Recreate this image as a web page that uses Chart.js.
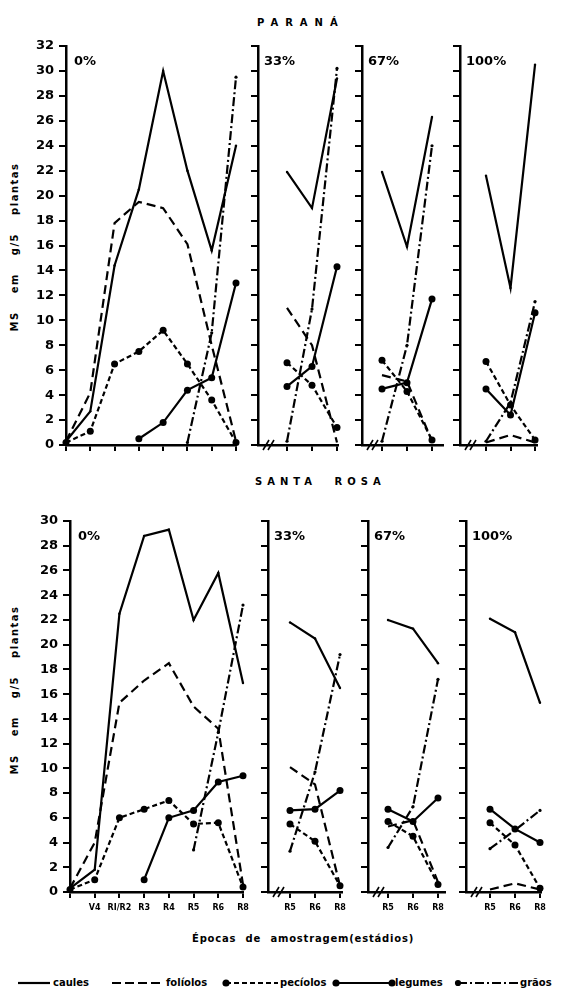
<!DOCTYPE html>
<html>
<head>
<meta charset="utf-8">
<script src="https://cdn.jsdelivr.net/npm/chart.js@4.4.0/dist/chart.umd.min.js"></script>
<style>
  body { margin: 0; background: #fff; width: 567px; height: 990px; position: relative; overflow: hidden;
         font-family: "DejaVu Sans", sans-serif; font-weight: bold; color: #000; }
  canvas { position: absolute; }
  .t { position: absolute; white-space: nowrap; line-height: 1; }
  .title { font-size: 10px; letter-spacing: 7px; }
  .pct { font-size: 13px; }
  .ylab { font-size: 10px; letter-spacing: 1.5px; word-spacing: 13px; transform: translate(-50%, -50%) rotate(-90deg); }
  .leg { font-size: 10px; }
</style>
</head>
<body>

<div class="t title" style="left:257px; top:18px;">PARANÁ</div>
<div class="t title" style="left:255px; top:477px; letter-spacing:5px; word-spacing:9px;">SANTA ROSA</div>
<div class="t ylab" style="left:15px; top:247px;">MS em g/5 plantas</div>
<div class="t ylab" style="left:15px; top:690px;">MS em g/5 plantas</div>
<div class="t" style="left:192px; top:934px; font-size:10px; letter-spacing:0.8px; word-spacing:5px;">Épocas de amostragem(estádios)</div>

<svg style="position:absolute; left:0; top:975px;" width="567" height="15">
  <g stroke="#000" stroke-width="2.2" fill="#000">
    <line x1="18" y1="8" x2="50" y2="8"/>
    <line x1="112" y1="8" x2="163" y2="8" stroke-dasharray="9,4"/>
    <circle cx="226" cy="8" r="2.5"/>
    <line x1="226" y1="8" x2="278" y2="8" stroke-dasharray="5,3"/>
    <circle cx="336" cy="8" r="2.5"/>
    <line x1="336" y1="8" x2="392" y2="8"/>
    <circle cx="392" cy="8" r="2.5"/>
    <circle cx="458" cy="8" r="2"/>
    <line x1="458" y1="8" x2="518" y2="8" stroke-dasharray="9,3,2,3"/>
  </g>
</svg>
<div class="t leg" style="left:53px; top:978px;">caules</div>
<div class="t leg" style="left:166px; top:978px;">folíolos</div>
<div class="t leg" style="left:280px; top:978px;">pecíolos</div>
<div class="t leg" style="left:395px; top:978px;">legumes</div>
<div class="t leg" style="left:520px; top:978px;">grãos</div>

<script>
// stages (x axis categories)
const stagesMain = ['', 'V4', 'RI/R2', 'R3', 'R4', 'R5', 'R6', 'R8'];
const stagesLate = ['R5', 'R6', 'R8'];

// Paraná, 0% defoliation (all stages)
const prCaules0   = [0.3, 2.7, 14.4, 20.5, 30.0, 22.0, 15.6, 24.0];
const prFoliolos0 = [0.3, 4.2, 17.8, 19.5, 19.0, 16.1, 8.0, 0.3];
const prPeciolos0 = [0.2, 1.1, 6.5, 7.5, 9.2, 6.5, 3.6, 0.2];
const prLegumes0  = [null, null, null, 0.5, 1.8, 4.4, 5.4, 13.0];
const prGraos0    = [null, null, null, null, null, 0.2, 9.0, 29.5];
// Paraná, R5-R8
const prCaules33   = [21.9, 19.0, 29.4];
const prFoliolos33 = [11.0, 8.0, 0.2];
const prPeciolos33 = [6.6, 4.8, 1.4];
const prLegumes33  = [4.7, 6.3, 14.3];
const prGraos33    = [0.3, 10.9, 30.2];
const prCaules67   = [21.9, 15.9, 26.3];
const prFoliolos67 = [5.6, 5.1, 0.3];
const prPeciolos67 = [6.8, 4.3, 0.4];
const prLegumes67  = [4.5, 5.0, 11.7];
const prGraos67    = [0.3, 8.0, 24.0];
const prCaules100   = [21.6, 12.6, 30.5];
const prFoliolos100 = [0.2, 0.8, 0.2];
const prPeciolos100 = [6.7, 3.2, 0.4];
const prLegumes100  = [4.5, 2.4, 10.6];
const prGraos100    = [0.3, 3.4, 11.5];

// Santa Rosa, 0%
const srCaules0   = [0.3, 1.8, 22.5, 28.8, 29.3, 22.0, 25.8, 16.9];
const srFoliolos0 = [0.3, 4.0, 15.3, 17.1, 18.5, 15.0, 13.2, 0.6];
const srPeciolos0 = [0.2, 1.0, 6.0, 6.7, 7.4, 5.5, 5.6, 0.4];
const srLegumes0  = [null, null, null, 1.0, 6.0, 6.6, 8.9, 9.4];
const srGraos0    = [null, null, null, null, null, 3.4, 12.9, 23.2];
// Santa Rosa, R5-R8
const srCaules33   = [21.8, 20.5, 16.5];
const srFoliolos33 = [10.1, 8.7, 0.5];
const srPeciolos33 = [5.5, 4.1, 0.5];
const srLegumes33  = [6.6, 6.7, 8.2];
const srGraos33    = [3.3, 9.7, 19.2];
const srCaules67   = [22.0, 21.3, 18.5];
const srFoliolos67 = [5.3, 5.8, 0.8];
const srPeciolos67 = [5.7, 4.5, 0.6];
const srLegumes67  = [6.7, 5.7, 7.6];
const srGraos67    = [3.6, 6.9, 17.2];
const srCaules100   = [22.1, 21.0, 15.3];
const srFoliolos100 = [0.2, 0.7, 0.2];
const srPeciolos100 = [5.6, 3.8, 0.3];
const srLegumes100  = [6.7, 5.1, 4.0];
const srGraos100    = [3.5, 5.0, 6.6];

const FONT = '"DejaVu Sans", sans-serif';
const PAD_L = 56, PAD_T = 14, PAD_R = 12, PAD_B = 30;

const rows = [
  { top: 46, bottom: 445, ymax: 32, showX: false },
  { top: 521, bottom: 892, ymax: 30, showX: true }
];

const panels = [
  { row: 0, pct: '0%',   left: 66,  right: 236, xmin: 0,     xmax: 7,    full: true,
    s: [prCaules0, prFoliolos0, prPeciolos0, prLegumes0, prGraos0] },
  { row: 0, pct: '33%',  left: 258, right: 338, xmin: -0.16, xmax: 3.04, full: false,
    s: [prCaules33, prFoliolos33, prPeciolos33, prLegumes33, prGraos33] },
  { row: 0, pct: '67%',  left: 362, right: 443, xmin: 0.2,   xmax: 3.44, full: false,
    s: [prCaules67, prFoliolos67, prPeciolos67, prLegumes67, prGraos67] },
  { row: 0, pct: '100%', left: 460, right: 537, xmin: -0.06, xmax: 3.08, full: false,
    s: [prCaules100, prFoliolos100, prPeciolos100, prLegumes100, prGraos100] },
  { row: 1, pct: '0%',   left: 70,  right: 243, xmin: 0,     xmax: 7,    full: true,
    s: [srCaules0, srFoliolos0, srPeciolos0, srLegumes0, srGraos0] },
  { row: 1, pct: '33%',  left: 268, right: 342, xmin: 0.12,  xmax: 3.08, full: false,
    s: [srCaules33, srFoliolos33, srPeciolos33, srLegumes33, srGraos33] },
  { row: 1, pct: '67%',  left: 368, right: 445, xmin: 0.2,   xmax: 3.28, full: false,
    s: [srCaules67, srFoliolos67, srPeciolos67, srLegumes67, srGraos67] },
  { row: 1, pct: '100%', left: 466, right: 541, xmin: 0.04,  xmax: 3.04, full: false,
    s: [srCaules100, srFoliolos100, srPeciolos100, srLegumes100, srGraos100] }
];

// caules, folíolos, pecíolos, legumes, grãos
const styles = [
  { dash: [],           r: 1.2 },
  { dash: [9, 5],       r: 0 },
  { dash: [5, 3],       r: 3.5 },
  { dash: [],           r: 3.5 },
  { dash: [9, 3, 2, 3], r: 1.6 }
];

// the "//" on the x axis of the R5-R8 panels
const breakMark = {
  id: 'breakMark',
  afterDraw(chart, args, opts) {
    if (!opts.show) return;
    const { ctx, chartArea: a } = chart;
    ctx.save();
    ctx.strokeStyle = '#000';
    ctx.lineWidth = 1.6;
    [8, 13].forEach(dx => {
      ctx.beginPath();
      ctx.moveTo(a.left + dx - 3, a.bottom + 5);
      ctx.lineTo(a.left + dx + 3, a.bottom - 5);
      ctx.stroke();
    });
    ctx.restore();
  }
};

panels.forEach(p => {
  const row = rows[p.row];
  const cv = document.createElement('canvas');
  const w = p.right - p.left + PAD_L + PAD_R;
  const h = row.bottom - row.top + PAD_T + PAD_B;
  cv.width = w; cv.height = h;
  cv.style.left = (p.left - PAD_L) + 'px';
  cv.style.top = (row.top - PAD_T) + 'px';
  cv.style.width = w + 'px'; cv.style.height = h + 'px';
  document.body.appendChild(cv);

  const labels = p.full ? stagesMain : stagesLate;
  const xs = labels.map((_, i) => p.full ? i : i + 1);

  const datasets = p.s.map((vals, k) => ({
    data: vals.map((v, i) => ({ x: xs[i], y: v })),
    borderColor: '#000',
    backgroundColor: '#000',
    borderWidth: 2.2,
    borderDash: styles[k].dash,
    pointRadius: styles[k].r,
    pointBorderWidth: 0,
    pointBackgroundColor: '#000',
    tension: 0,
    spanGaps: false,
    clip: false
  }));

  new Chart(cv.getContext('2d'), {
    type: 'line',
    data: { datasets },
    options: {
      responsive: false,
      animation: false,
      devicePixelRatio: 1,
      layout: { padding: { left: 0, top: PAD_T, right: PAD_R, bottom: 0 } },
      plugins: { legend: { display: false }, tooltip: { enabled: false }, breakMark: { show: !p.full } },
      scales: {
        x: {
          type: 'linear', min: p.xmin, max: p.xmax,
          afterBuildTicks: sc => { sc.ticks = xs.map(v => ({ value: v })); },
          afterFit: sc => { sc.height = PAD_B; },
          ticks: {
            display: row.showX, autoSkip: false, maxRotation: 0, padding: 5, color: '#000',
            font: { family: FONT, size: 8, weight: 'bold' },
            callback: v => labels[xs.indexOf(v)]
          },
          grid: { drawOnChartArea: false, tickLength: 6, color: '#000', lineWidth: 2 },
          border: { color: '#000', width: 2.5 }
        },
        y: {
          min: 0, max: row.ymax,
          afterBuildTicks: sc => {
            const t = [];
            for (let v = 0; v <= row.ymax; v += 2) t.push({ value: v });
            sc.ticks = t;
          },
          afterFit: sc => { sc.width = PAD_L; },
          ticks: {
            display: p.full, padding: 5, color: '#000',
            font: { family: FONT, size: 13, weight: 'bold' }
          },
          grid: { drawOnChartArea: false, tickLength: 7, color: '#000', lineWidth: 2 },
          border: { color: '#000', width: 2.5 }
        }
      }
    },
    plugins: [breakMark]
  });

  const lab = document.createElement('div');
  lab.className = 't pct';
  lab.textContent = p.pct;
  lab.style.left = (p.left + (p.full ? 8 : 6)) + 'px';
  lab.style.top = (row.top + 8) + 'px';
  document.body.appendChild(lab);
});
</script>
</body>
</html>
